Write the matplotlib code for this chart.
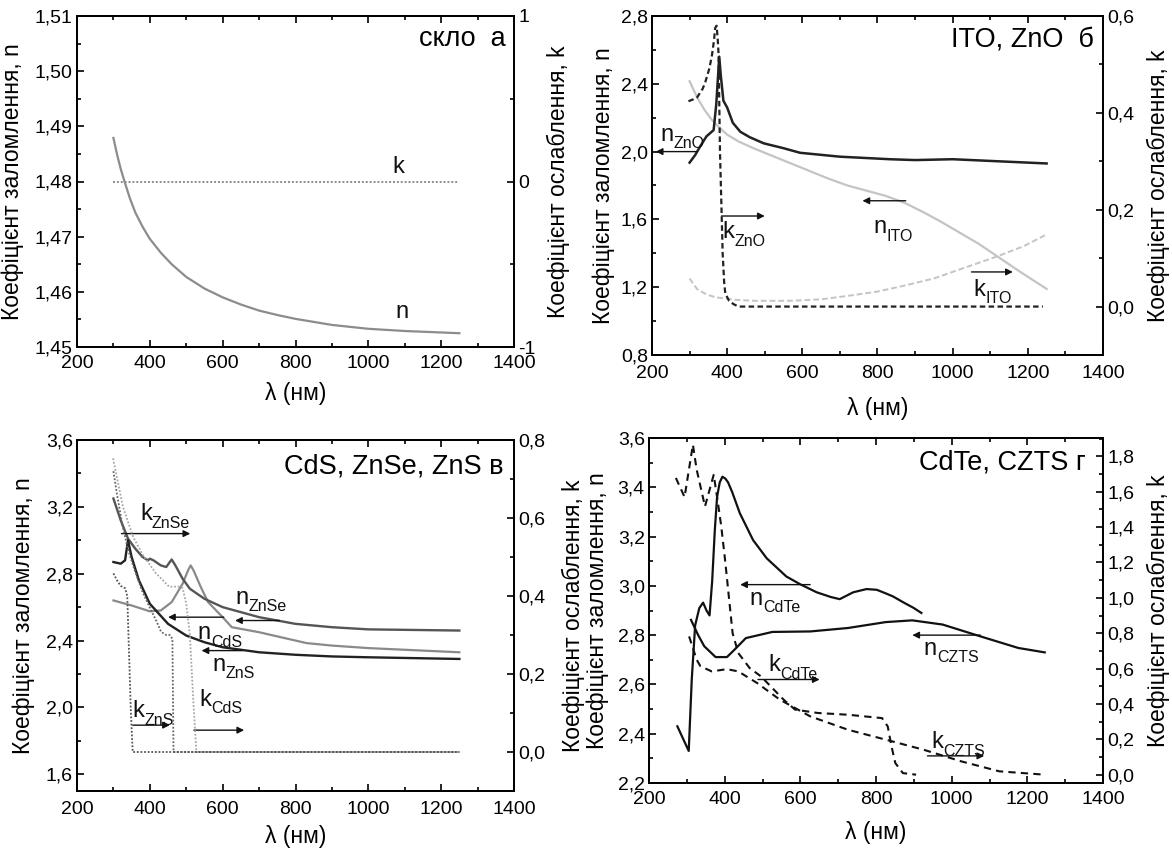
import matplotlib
matplotlib.use('Agg')
import matplotlib.pyplot as plt
from matplotlib.ticker import MultipleLocator, FuncFormatter

plt.rcParams['font.family'] = ['Liberation Sans', 'DejaVu Sans']

# ---- а: скло ----
glass_wl = [300, 310, 320, 330, 345, 360, 380, 400, 430, 460, 500, 550, 600, 650, 700, 750, 800,
            900, 1000, 1100, 1250]
glass_n = [1.4879, 1.4849, 1.4823, 1.4801, 1.4770, 1.4744, 1.4718, 1.4696, 1.4671, 1.4650, 1.4627,
           1.4606, 1.4590, 1.4577, 1.4566, 1.4558, 1.4551, 1.4540, 1.4533, 1.4529, 1.4525]
glass_k_wl = [300, 1245]
glass_k = [0.0, 0.0]

# ---- б: ITO, ZnO ----
zno_wl = [300, 315, 328, 345, 364, 371, 375, 379, 383, 390, 400, 415, 435, 460, 497, 550, 594, 700,
          833, 900, 1000, 1100, 1250]
zno_n = [1.935, 1.98, 2.03, 2.09, 2.127, 2.28, 2.42, 2.56, 2.45, 2.30, 2.26, 2.17, 2.117, 2.085, 2.049,
         2.02, 1.993, 1.97, 1.955, 1.95, 1.955, 1.945, 1.93]
zno_k_wl = [297, 310, 320, 335, 342, 352, 359, 365, 368, 372, 375, 377, 381, 385, 388, 392, 395, 405,
            417, 430, 1240]
zno_k = [0.424, 0.428, 0.432, 0.45, 0.464, 0.49, 0.516, 0.55, 0.575, 0.58, 0.55, 0.523, 0.316, 0.20,
         0.11, 0.05, 0.027, 0.012, 0.005, 0.0, 0.0]
ito_wl = [300, 320, 340, 360, 380, 400, 430, 470, 520, 570, 620, 670, 720, 770, 820, 870, 920, 970,
          1020, 1070, 1120, 1180, 1250]
ito_n = [2.415, 2.32, 2.245, 2.185, 2.14, 2.10, 2.06, 2.02, 1.975, 1.93, 1.885, 1.84, 1.80, 1.77,
         1.74, 1.70, 1.645, 1.585, 1.52, 1.455, 1.38, 1.29, 1.19]
ito_k_wl = [300, 320, 345, 370, 420, 470, 570, 650, 720, 800, 870, 950, 1020, 1120, 1190, 1250]
ito_k = [0.058, 0.036, 0.025, 0.019, 0.014, 0.012, 0.012, 0.015, 0.022, 0.031, 0.043, 0.058, 0.077,
         0.104, 0.125, 0.149]

# ---- в: CdS, ZnSe, ZnS ----
znse_wl = [300, 320, 340, 360, 380, 395, 400, 410, 430, 445, 460, 470, 490, 510, 550, 600, 700, 800,
           900, 1000, 1250]
znse_n = [3.25, 3.12, 3.01, 2.95, 2.90, 2.88, 2.89, 2.88, 2.85, 2.84, 2.885, 2.85, 2.77, 2.71, 2.65,
          2.60, 2.54, 2.50, 2.48, 2.467, 2.46]
cds_wl = [300, 350, 400, 430, 460, 490, 505, 512, 520, 540, 560, 600, 625, 700, 800, 830, 900, 1000, 1250]
cds_n = [2.64, 2.61, 2.575, 2.58, 2.63, 2.74, 2.82, 2.85, 2.82, 2.72, 2.63, 2.54, 2.48, 2.45, 2.40,
         2.385, 2.37, 2.355, 2.33]
zns_wl = [300, 320, 332, 340, 350, 370, 400, 450, 500, 550, 600, 700, 800, 900, 1000, 1250]
zns_n = [2.87, 2.86, 2.88, 3.0, 2.90, 2.76, 2.62, 2.50, 2.43, 2.39, 2.36, 2.33, 2.315, 2.305, 2.30, 2.29]
zns_k_wl = [300, 310, 320, 332, 338, 343, 348, 353, 1250]
zns_k = [0.458, 0.44, 0.426, 0.42, 0.40, 0.25, 0.10, 0.0, 0.0]
znse_k_wl = [300, 310, 325, 340, 355, 380, 400, 417, 431, 445, 455, 462, 465, 1250]
znse_k = [0.72, 0.66, 0.58, 0.52, 0.475, 0.41, 0.37, 0.338, 0.308, 0.30, 0.30, 0.29, 0.0, 0.0]
cds_k_wl = [299, 326, 354, 381, 417, 453, 480, 490, 500, 510, 520, 528, 1250]
cds_k = [0.753, 0.629, 0.552, 0.505, 0.458, 0.424, 0.424, 0.42, 0.38, 0.30, 0.12, 0.0, 0.0]

# ---- г: CdTe, CZTS ----
cdte_wl = [275, 290, 305, 313, 322, 333, 343, 352, 360, 367, 374, 380, 387, 394, 402, 409, 420, 440,
           475, 511, 563, 599, 643, 680, 704, 722, 740, 775, 802, 825, 845, 870, 900, 920]
cdte_n = [2.43, 2.38, 2.33, 2.62, 2.84, 2.91, 2.932, 2.90, 2.88, 3.02, 3.227, 3.362, 3.42, 3.443,
          3.435, 3.42, 3.38, 3.295, 3.186, 3.112, 3.038, 3.007, 2.974, 2.955, 2.946, 2.96, 2.974,
          2.987, 2.984, 2.97, 2.957, 2.935, 2.91, 2.89]
czts_wl = [311, 330, 346, 376, 406, 426, 456, 526, 626, 726, 826, 896, 976, 1076, 1176, 1246]
czts_n = [2.862, 2.80, 2.755, 2.711, 2.711, 2.741, 2.788, 2.813, 2.815, 2.829, 2.853, 2.86, 2.843,
          2.795, 2.748, 2.73]
cdte_k_wl = [271, 294, 316, 326, 348, 371, 381, 391, 401, 411, 421, 436, 466, 496, 526, 556, 586, 646,
             726, 816, 831, 841, 851, 871, 906]
cdte_k = [1.678, 1.57, 1.866, 1.725, 1.517, 1.696, 1.555, 1.404, 1.216, 1.008, 0.80, 0.688, 0.603,
          0.556, 0.49, 0.424, 0.368, 0.349, 0.339, 0.32, 0.273, 0.16, 0.066, 0.009, 0.0]
czts_k_wl = [306, 326, 336, 366, 406, 436, 486, 546, 626, 726, 826, 926, 1026, 1126, 1246]
czts_k = [0.782, 0.65, 0.613, 0.584, 0.597, 0.584, 0.518, 0.424, 0.33, 0.254, 0.198, 0.141, 0.075,
          0.019, 0.0]

W, H = 1172, 858
fig = plt.figure(figsize=(W / 100, H / 100), dpi=100)


def make_axes(l, r, t, b):
    return fig.add_axes([l / W, 1 - b / H, (r - l) / W, (b - t) / H])


def comma(fmt):
    return FuncFormatter(lambda v, p: (fmt % v).replace('.', ','))


def style(ax, kx, ylim, ymaj, ymin, yfmt, klim, kmaj, kmin, kfmt, pads, xpad):
    ax.set_xlim(200, 1400)
    ax.xaxis.set_major_locator(MultipleLocator(200))
    ax.xaxis.set_minor_locator(MultipleLocator(100))
    ax.set_ylim(*ylim)
    ax.yaxis.set_major_locator(MultipleLocator(ymaj))
    ax.yaxis.set_minor_locator(MultipleLocator(ymin))
    ax.yaxis.set_major_formatter(comma(yfmt))
    kx.set_ylim(*klim)
    kx.yaxis.set_major_locator(MultipleLocator(kmaj))
    kx.yaxis.set_minor_locator(MultipleLocator(kmin))
    kx.yaxis.set_major_formatter(comma(kfmt))
    ax.tick_params(which='both', direction='in', top=True, right=False, labelsize=14, width=1.2)
    ax.tick_params(which='major', length=5, pad=3)
    ax.tick_params(which='minor', length=3)
    ax.tick_params(axis='x', which='major', pad=xpad)
    kx.tick_params(which='both', direction='in', labelsize=14, width=1.2)
    kx.tick_params(which='major', length=5, pad=3)
    kx.tick_params(which='minor', length=3)
    for a in (ax, kx):
        for s in a.spines.values():
            s.set_linewidth(1.3)
    ax.set_xlabel('λ (нм)', fontsize=16.5, labelpad=pads[0])
    ax.set_ylabel('Коефіцієнт заломлення, n', fontsize=16.5, labelpad=pads[1])
    kx.set_ylabel('Коефіцієнт ослаблення, k', fontsize=16.5, labelpad=pads[2])


def label(ax, x, y, main, sub=None):
    ax.text(x, y, main, fontsize=17, va='baseline', ha='left', color='#111111')
    if sub:
        dx = 9.5 if main == 'n' else 8.5
        ax.annotate(sub, xy=(x, y), xytext=(dx, -5.5), textcoords='offset points',
                    fontsize=11.5, va='baseline', ha='left', color='#111111')


def arrow(ax, x0, x1, y, c='#111111'):
    ax.annotate('', xy=(x1, y), xytext=(x0, y),
                arrowprops=dict(arrowstyle='-|>', color=c, lw=1.0, mutation_scale=10,
                                shrinkA=0, shrinkB=0))


# ---------- а ----------
ax = make_axes(77, 514, 16, 347)
kx = ax.twinx()
ax.plot(glass_wl, glass_n, color='#8c8c8c', lw=1.6)
kx.plot(glass_k_wl, glass_k, color='#8c8c8c', lw=1.4, ls=(0, (1, 1)))
style(ax, kx, (1.45, 1.51), 0.01, 0.005, '%.2f', (-1, 1), 1, 0.5, '%.0f', (7, 8, 8), 6)
ax.text(0.98, 0.93, 'скло  а', transform=ax.transAxes, fontsize=19.5, ha='right', va='center')
label(ax, 1065, 1.4815, 'k')
label(ax, 1075, 1.4553, 'n')

# ---------- б ----------
ax = make_axes(652, 1103, 16, 355)
kx = ax.twinx()
ax.plot(ito_wl, ito_n, color='#c4c4c4', lw=1.6)
ax.plot(zno_wl, zno_n, color='#222222', lw=1.8)
kx.plot(ito_k_wl, ito_k, color='#c4c4c4', lw=1.4, ls=(0, (3, 1.5)))
kx.plot(zno_k_wl, zno_k, color='#222222', lw=1.6, ls=(0, (2.5, 1.5)))
style(ax, kx, (0.8, 2.8), 0.4, 0.2, '%.1f', (-0.1, 0.6), 0.2, 0.1, '%.1f', (11, 4, 9), 7)
ax.text(0.98, 0.93, 'ITO, ZnO  б', transform=ax.transAxes, fontsize=19.5, ha='right', va='center')
label(ax, 222, 2.065, 'n', 'ZnO')
arrow(ax, 320, 210, 2.0)
label(ax, 388, 1.49, 'k', 'ZnO')
arrow(ax, 385, 500, 1.62)
label(ax, 790, 1.52, 'n', 'ITO')
arrow(ax, 875, 760, 1.71)
label(ax, 1055, 1.15, 'k', 'ITO')
arrow(ax, 1050, 1160, 1.29)

# ---------- в ----------
ax = make_axes(77, 514, 440, 791)
kx = ax.twinx()
ax.plot(cds_wl, cds_n, color='#8a8a8a', lw=1.6)
ax.plot(znse_wl, znse_n, color='#555555', lw=1.7)
ax.plot(zns_wl, zns_n, color='#222222', lw=1.7)
kx.plot(cds_k_wl, cds_k, color='#a8a8a8', lw=1.3, ls=(0, (1, 1)))
kx.plot(znse_k_wl, znse_k, color='#666666', lw=1.3, ls=(0, (1, 1)))
kx.plot(zns_k_wl, zns_k, color='#555555', lw=1.3, ls=(0, (1, 1)))
style(ax, kx, (1.5, 3.6), 0.4, 0.2, '%.1f', (-0.1, 0.8), 0.2, 0.1, '%.1f', (5, 8, 12), 7)
ax.text(0.975, 0.925, 'CdS, ZnSe, ZnS в', transform=ax.transAxes, fontsize=19.5, ha='right', va='center')
label(ax, 373, 3.12, 'k', 'ZnSe')
arrow(ax, 322, 511, 3.04)
label(ax, 634, 2.62, 'n', 'ZnSe')
arrow(ax, 756, 634, 2.52)
label(ax, 532, 2.41, 'n', 'CdS')
arrow(ax, 603, 450, 2.54)
label(ax, 572, 2.22, 'n', 'ZnS')
arrow(ax, 654, 542, 2.34)
label(ax, 537, 2.01, 'k', 'CdS')
arrow(ax, 521, 659, 1.864)
label(ax, 353, 1.94, 'k', 'ZnS')
arrow(ax, 353, 455, 1.894)

# ---------- г ----------
ax = make_axes(649, 1103, 438, 783)
kx = ax.twinx()
ax.plot(cdte_wl, cdte_n, color='#111111', lw=1.6)
ax.plot(czts_wl, czts_n, color='#111111', lw=1.6)
kx.plot(cdte_k_wl, cdte_k, color='#111111', lw=1.5, ls=(0, (3.5, 2.5)))
kx.plot(czts_k_wl, czts_k, color='#111111', lw=1.5, ls=(0, (3.5, 2.5)))
style(ax, kx, (2.2, 3.6), 0.2, 0.1, '%.1f', (-0.047, 1.904), 0.2, 0.1, '%.1f', (9, 6, 9), 6)
ax.text(0.963, 0.928, 'CdTe, CZTS г', transform=ax.transAxes, fontsize=19.5, ha='right', va='center')
label(ax, 466, 2.924, 'n', 'CdTe')
arrow(ax, 626, 441, 3.005)
label(ax, 926, 2.72, 'n', 'CZTS')
arrow(ax, 1076, 896, 2.80)
label(ax, 516, 2.653, 'k', 'CdTe')
arrow(ax, 488, 651, 2.62)
label(ax, 946, 2.342, 'k', 'CZTS')
arrow(ax, 936, 1086, 2.31)

fig.savefig('out.png', dpi=100)
